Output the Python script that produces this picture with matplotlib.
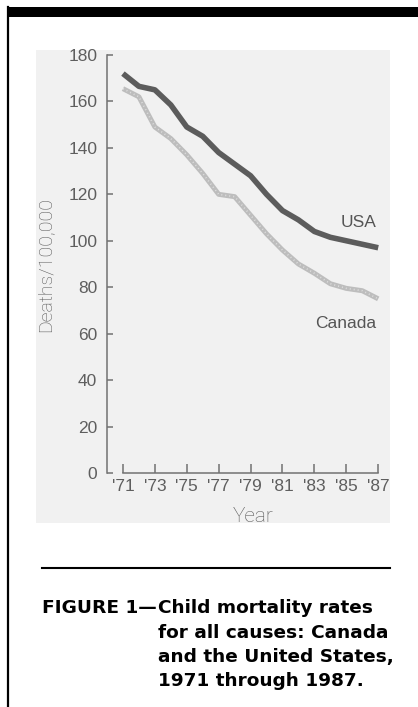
import matplotlib.pyplot as plt
from matplotlib.patches import Rectangle
from matplotlib.lines import Line2D

# Child mortality, deaths per 100,000
years = [1971, 1972, 1973, 1974, 1975, 1976, 1977, 1978, 1979,
         1980, 1981, 1982, 1983, 1984, 1985, 1986, 1987]
usa = [172, 166.5, 165, 158.5, 149, 145, 138, 133, 128,
       120, 113, 109, 104, 101.5, 100, 98.5, 97]
canada = [165.5, 162, 149, 144, 137, 129, 120, 119, 111,
          103, 96, 90, 86, 81.5, 79.5, 78.5, 75]
y_ticks = [0, 20, 40, 60, 80, 100, 120, 140, 160, 180]
x_ticks = [1971, 1973, 1975, 1977, 1979, 1981, 1983, 1985, 1987]
x_labels = ["'71", "'73", "'75", "'77", "'79", "'81", "'83", "'85", "'87"]

W, H = 418, 707
fig = plt.figure(figsize=(W / 100, H / 100), dpi=100)
fig.patch.set_facecolor("white")


def fx(x):
    return x / W


def fy(y):
    return 1 - y / H


axis_gray = "#727272"
text_gray = "#5e5e5e"
sans = "Liberation Sans"

# page furniture: top rule, left rule, shaded plot panel, caption rule
fig.add_artist(Rectangle((fx(8), fy(17)), fx(410), 10 / H,
                         transform=fig.transFigure, color="black", lw=0))
fig.add_artist(Line2D([fx(8), fx(8)], [fy(7), 0], transform=fig.transFigure,
                      color="black", lw=1.6))
fig.add_artist(Rectangle((fx(36), fy(523)), fx(354), 473 / H,
                         transform=fig.transFigure, color="#f1f1f1", lw=0, zorder=0))
fig.add_artist(Line2D([fx(42), fx(390)], [fy(568), fy(568)],
                      transform=fig.transFigure, color="black", lw=1.5))

ax = fig.add_axes([fx(107), fy(473), fx(383 - 107), (473 - 55) / H])
ax.set_facecolor("none")
ax.plot(years, canada, color="#bdbdbd", lw=3.6, solid_capstyle="butt")
ax.plot(years, canada, color="white", lw=1.2, ls=(0, (0.6, 1.8)), alpha=0.5)
ax.plot(years, usa, color="#5c5c5c", lw=4.0, solid_capstyle="butt")

ax.set_xlim(1970, 1987.3)
ax.set_ylim(0, 180)
for side in ["top", "right"]:
    ax.spines[side].set_visible(False)
ax.spines["left"].set_bounds(0, 180)
ax.spines["bottom"].set_bounds(1971, 1987)
for side in ["left", "bottom"]:
    ax.spines[side].set_color(axis_gray)
    ax.spines[side].set_linewidth(1.1)

ax.set_yticks(y_ticks)
ax.set_xticks(x_ticks)
ax.set_xticklabels(x_labels)
ax.tick_params(axis="y", direction="in", length=4.5, width=1.1, color=axis_gray,
               labelcolor=text_gray, labelsize=12.5, pad=7)
ax.tick_params(axis="x", direction="in", length=6.5, width=1.1, color=axis_gray,
               labelcolor=text_gray, labelsize=12.5, pad=4)
for lab in ax.get_xticklabels() + ax.get_yticklabels():
    lab.set_family(sans)

ax.text(1986.9, 108, "USA", ha="right", va="center", fontsize=12.5,
        color="#555555", family=sans)
ax.text(1986.9, 64.5, "Canada", ha="right", va="center", fontsize=12.5,
        color="#555555", family=sans)

fig.text(fx(45), fy(264), "Deaths/100,000", rotation=90, ha="center", va="center",
         fontsize=14, color="#575757", family="Roboto", fontweight="light")
fig.text(fx(253), fy(517), "Year", ha="center", va="center",
         fontsize=15, color="#575757", family="Roboto", fontweight="light")

# caption: first line carries the figure number, the rest hang under "Child"
caption = ["Child mortality rates", "for all causes: Canada",
           "and the United States,", "1971 through 1987."]
cap_font = dict(fontsize=13.3, fontweight="bold", family="DejaVu Sans", va="center")
head = fig.text(fx(42), fy(608), "FIGURE 1\u2014", ha="left", **cap_font)
renderer = fig.canvas.get_renderer()
indent = head.get_window_extent(renderer).x1 + 1
fig.text(indent / W, fy(608), caption[0], ha="left", **cap_font)
for i, line in enumerate(caption[1:], start=1):
    fig.text(indent / W, fy(608 + 24.5 * i), line, ha="left", **cap_font)

fig.savefig("out.png", dpi=100)
